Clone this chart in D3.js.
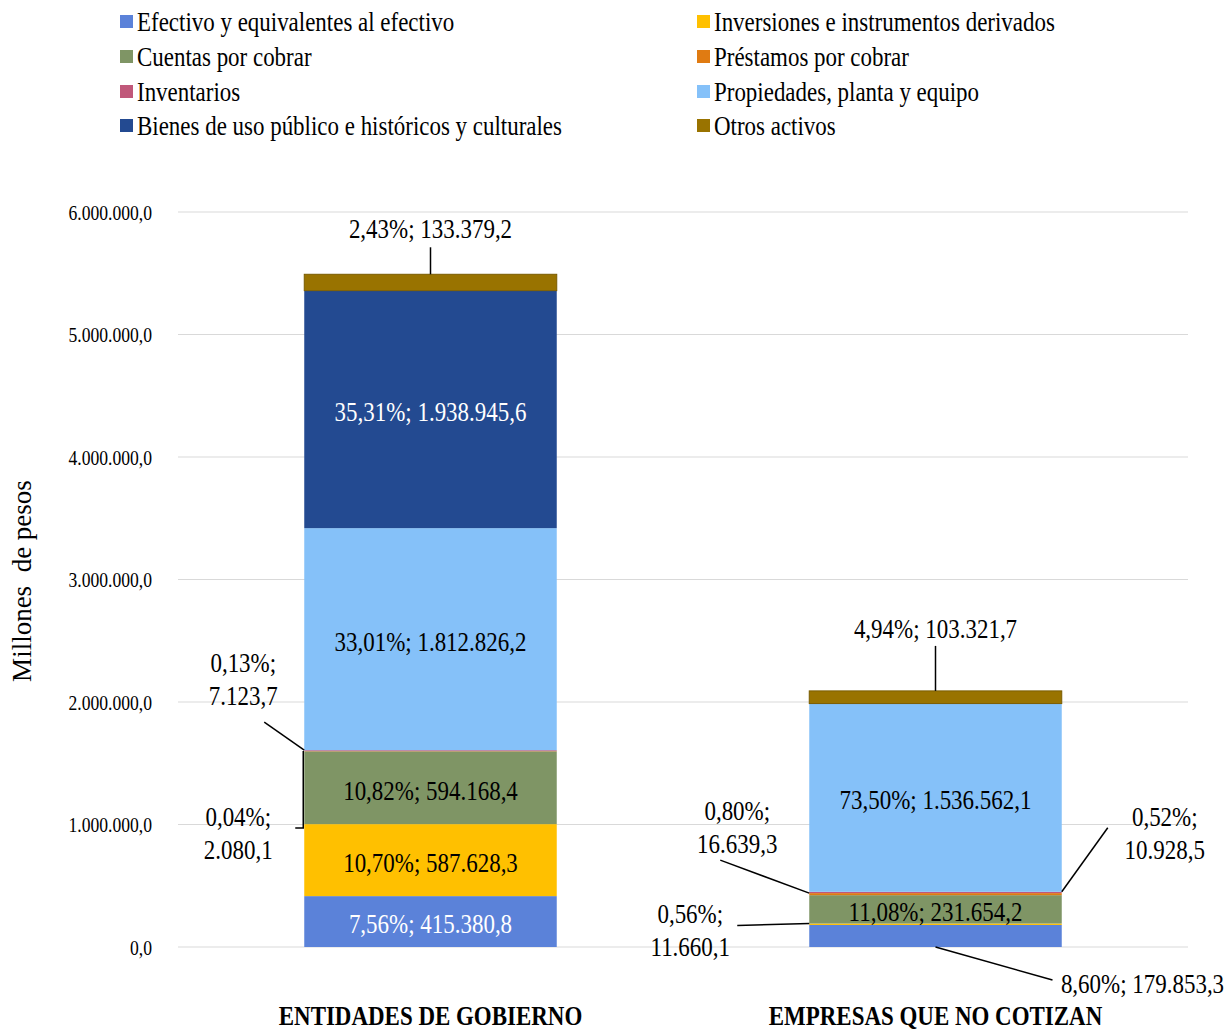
<!DOCTYPE html>
<html>
<head>
<meta charset="utf-8">
<script src="https://cdn.jsdelivr.net/npm/d3@7"></script>
<style>
  html, body { margin: 0; padding: 0; background: #fff; }
  svg text { font-family: "Liberation Serif", "Times New Roman", serif; }
</style>
</head>
<body>
<svg id="chart" width="1225" height="1030"></svg>
<script>
// ---------------- DATA ----------------
const categories = ["ENTIDADES DE GOBIERNO", "EMPRESAS QUE NO COTIZAN"];
const seriesNames = [
  "Efectivo y equivalentes al efectivo",
  "Inversiones e instrumentos derivados",
  "Cuentas por cobrar",
  "Préstamos por cobrar",
  "Inventarios",
  "Propiedades, planta y equipo",
  "Bienes de uso público e históricos y culturales",
  "Otros activos"
];
const seriesColors = ["#5b82d9", "#ffc000", "#7f9565", "#e07b12", "#c0587a", "#85c1f9", "#234a91", "#997300"];
const gobiernoValues = [415380.8, 587628.3, 594168.4, 2080.1, 7123.7, 1812826.2, 1938945.6, 133379.2];
const empresasValues = [179853.3, 11660.1, 231654.2, 16639.3, 10928.5, 1536562.1, 0, 103321.7];
const yTicks = [0, 1000000, 2000000, 3000000, 4000000, 5000000, 6000000];
const yAxisTitle = "Millones  de pesos";
// legend layout: order of series in the two legend columns
const legendLeft = [0, 2, 4, 6];
const legendRight = [1, 3, 5, 7];
const whiteLabelSeries = [0, 6];

// Callouts (labels outside the bar) – offsets in px relative to an anchor on the segment
const callouts = [
  {cat: 0, s: 7, anchor: "top-center", text: [0, -46], line: [[0, -27], [0, 0]]},
  {cat: 0, s: 4, anchor: "top-left", text: [-61, -88], line: [[-40, -28], [0, 0]]},
  {cat: 0, s: 3, anchor: "top-left", text: [-66, 65], line: [[-9, 77], [-1, 77], [-1, 0]]},
  {cat: 1, s: 7, anchor: "top-center", text: [0, -63], line: [[0, -45], [0, 0]]},
  {cat: 1, s: 4, anchor: "top-right", text: [103, -76], line: [[46, -64], [0, 0]]},
  {cat: 1, s: 3, anchor: "top-left", text: [-72, -83], line: [[-89, -33], [0, 0]]},
  {cat: 1, s: 1, anchor: "top-left", text: [-119, -10], line: [[-72, 2], [0, 0]]},
  {cat: 1, s: 0, anchor: "bottom-center", text: [207, 36], line: [[117, 33], [0, 0]], oneLine: true}
];

// ---------------- SETUP ----------------
const svg = d3.select("#chart");
const fmtLocale = d3.formatLocale({decimal: ",", thousands: ".", grouping: [3], currency: ["$", ""]});
const fmtVal = fmtLocale.format(",.1f");
const fmtPct = fmtLocale.format(".2f");

const table = categories.map((c, i) => {
  const vals = i === 0 ? gobiernoValues : empresasValues;
  const row = {cat: c};
  seriesNames.forEach((s, j) => row[s] = vals[j]);
  row.total = d3.sum(vals);
  return row;
});

const stack = d3.stack().keys(seriesNames);
const stacked = stack(table);

const x = d3.scaleBand().domain(categories).range([178, 1188]).paddingInner(0.5).paddingOuter(0.25);
const y = d3.scaleLinear().domain([0, 6000000]).range([947, 212]);

function scaledText(g, px, py, txt, size, sx, opts = {}) {
  return g.append("text")
    .attr("transform", `translate(${px},${py}) scale(${sx},1)`)
    .attr("text-anchor", opts.anchor || "middle")
    .attr("dy", "0.35em")
    .attr("font-size", size)
    .attr("font-weight", opts.weight || "normal")
    .attr("fill", opts.fill || "#000")
    .text(txt);
}

// gridlines
svg.append("g").selectAll("line").data(yTicks).join("line")
  .attr("x1", 178).attr("x2", 1188)
  .attr("y1", d => y(d)).attr("y2", d => y(d))
  .attr("stroke", "#d9d9d9").attr("stroke-width", 1);

// y axis labels
const yAxis = d3.axisLeft(y).tickValues(yTicks).tickFormat(d => fmtVal(d)).tickSize(0).tickPadding(0);
const yg = svg.append("g").attr("transform", "translate(152,0)").call(yAxis);
yg.select(".domain").remove();
yg.selectAll("text").attr("font-size", 20).attr("fill", "#000")
  .attr("x", 0).attr("dy", "0.35em").attr("transform", "scale(0.88,1)");

// y axis title
svg.append("text")
  .attr("transform", "translate(22,581) rotate(-90)")
  .attr("text-anchor", "middle").attr("dy", "0.35em")
  .attr("font-size", 27)
  .style("white-space", "pre")
  .text(yAxisTitle);

// bars
const barsG = svg.append("g");
stacked.forEach((layer, j) => {
  barsG.selectAll(null).data(layer.filter(d => d[1] - d[0] > 0)).join("rect")
    .attr("x", d => x(d.data.cat))
    .attr("width", x.bandwidth())
    .attr("y", d => y(d[1]))
    .attr("height", d => y(d[0]) - y(d[1]))
    .attr("fill", seriesColors[j])
    .attr("stroke", j === 7 ? "#7a5c00" : "none")
    .attr("stroke-width", j === 7 ? 1 : 0);
});

// labels
const labelG = svg.append("g");
function labelLines(ci, si) {
  const v = table[ci][seriesNames[si]];
  const pct = fmtPct(v / table[ci].total * 100) + "%;";
  return [pct, fmtVal(v)];
}
const calloutKey = new Set(callouts.map(c => c.cat + "-" + c.s));
stacked.forEach((layer, j) => {
  layer.forEach((d, ci) => {
    const v = d[1] - d[0];
    if (v <= 0 || calloutKey.has(ci + "-" + j)) return;
    const [p, val] = labelLines(ci, j);
    const cx = x(d.data.cat) + x.bandwidth() / 2;
    const cy = (y(d[0]) + y(d[1])) / 2 + 2;
    scaledText(labelG, cx, cy, p + " " + val, 28, 0.82, {fill: whiteLabelSeries.includes(j) ? "#fff" : "#000"});
  });
});

callouts.forEach(c => {
  const d = stacked[c.s][c.cat];
  const bx0 = x(d.data.cat), bx1 = bx0 + x.bandwidth(), bxc = bx0 + x.bandwidth() / 2;
  const [vert, horiz] = c.anchor.split("-");
  const ay = vert === "top" ? y(d[1]) : y(d[0]);
  const ax = horiz === "left" ? bx0 : horiz === "right" ? bx1 : bxc;
  const pts = c.line.map(p => [ax + p[0], ay + p[1]]);
  labelG.append("path").attr("d", d3.line()(pts))
    .attr("fill", "none").attr("stroke", "#000").attr("stroke-width", 1.5);
  const [p, val] = labelLines(c.cat, c.s);
  const tx = ax + c.text[0], ty = ay + c.text[1];
  if (c.oneLine || c.s === 7) {
    scaledText(labelG, tx, ty, p + " " + val, 28, 0.82);
  } else {
    scaledText(labelG, tx, ty, p, 28, 0.82);
    scaledText(labelG, tx, ty + 33, val, 28, 0.82);
  }
});

// category labels
categories.forEach(c => {
  scaledText(svg, x(c) + x.bandwidth() / 2, 1015, c, 28, 0.82, {weight: "bold"});
});

// legend
const legG = svg.append("g");
const rowY = [22, 57, 92, 126];
function legendCol(list, sqX) {
  list.forEach((si, r) => {
    legG.append("rect").attr("x", sqX).attr("y", rowY[r] - 7).attr("width", 13).attr("height", 13)
      .attr("fill", seriesColors[si]);
    scaledText(legG, sqX + 17, rowY[r], seriesNames[si], 27, 0.85, {anchor: "start"});
  });
}
legendCol(legendLeft, 120);
legendCol(legendRight, 697);
</script>
</body>
</html>
